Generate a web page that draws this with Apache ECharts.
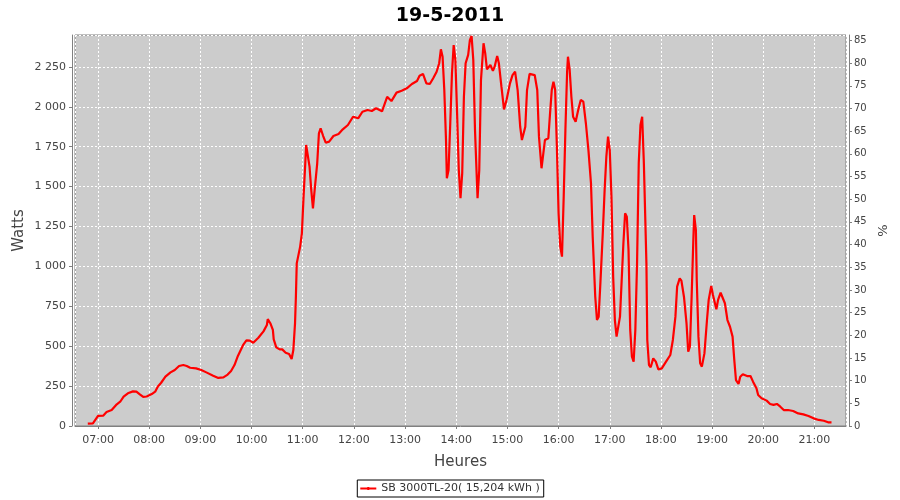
<!DOCTYPE html>
<html><head><meta charset="utf-8">
<script src="https://cdn.jsdelivr.net/npm/echarts@6/dist/echarts.min.js"></script>
<style>html,body{margin:0;padding:0;background:#fff}#c{width:900px;height:500px}</style>
</head><body><div id="c"></div>
<script>
const chartTitle = '19-5-2011';
const seriesName = 'SB 3000TL-20( 15,204 kWh )';
const xName = 'Heures';
const yLeftName = 'Watts';
const yRightName = '%';
const xStart = '06:33';
const xEnd = '21:37';
const wattMax = 2450;
const pctMax = 86.2;

const times = ['06:48','06:54','07:00','07:06','07:10','07:16','07:22','07:26','07:30','07:35','07:41','07:45','07:49','07:53','07:57',
'08:03','08:07','08:10','08:14','08:19','08:25','08:30','08:35','08:40','08:44','08:48','08:55',
'09:01','09:07','09:15','09:21','09:27','09:32','09:36','09:40','09:44','09:50','09:54','09:58',
'10:02','10:08','10:14','10:18','10:19','10:22','10:25','10:26','10:29','10:33','10:36','10:40','10:44','10:47','10:49','10:51','10:52','10:53','10:57','10:59',
'11:01','11:03','11:04','11:08','11:10','11:12','11:14','11:17','11:19','11:21','11:24','11:27','11:31','11:36','11:42','11:47','11:53','11:59',
'12:05','12:10','12:16','12:21','12:26','12:33','12:39','12:44','12:50','12:56',
'13:02','13:08','13:14','13:17','13:21','13:25','13:29','13:33','13:37','13:40','13:42','13:44','13:46','13:48','13:49','13:51','13:53','13:55','13:57','13:59',
'14:01','14:03','14:05','14:07','14:09','14:11','14:14','14:16','14:18','14:20','14:22','14:25','14:27','14:29','14:32','14:34','14:36','14:40','14:43','14:45','14:48','14:50','14:53','14:56','14:59',
'15:03','15:06','15:09','15:12','15:15','15:17','15:21','15:23','15:26','15:28','15:32','15:35','15:37','15:40','15:42','15:44','15:48','15:50','15:52','15:54','15:56','15:58',
'16:00','16:02','16:04','16:06','16:08','16:10','16:11','16:13','16:15','16:17','16:20','16:23','16:26','16:29','16:32','16:35','16:38','16:40','16:43','16:45','16:47','16:49','16:52','16:54','16:56','16:58',
'17:00','17:02','17:04','17:06','17:08','17:10','17:12','17:14','17:16','17:18','17:20','17:22','17:24','17:26','17:28','17:30','17:32','17:34','17:36','17:38','17:40','17:43','17:44','17:46','17:48','17:51','17:54','17:57',
'18:01','18:06','18:11','18:14','18:17','18:19','18:22','18:24','18:27','18:30','18:32','18:34','18:36','18:38','18:39','18:41','18:42','18:44','18:46','18:48','18:51','18:54','18:56','18:59',
'19:01','19:05','19:07','19:10','19:12','19:15','19:18','19:21','19:24','19:26','19:28','19:31','19:33','19:36','19:41','19:45','19:48','19:52','19:54','19:58',
'20:04','20:08','20:12','20:16','20:20','20:24','20:29','20:35','20:41','20:47','20:53','20:59',
'21:05','21:11','21:16','21:20'];

const watts = [15,17,63,65,88,100,136,152,184,205,217,215,198,182,185,
200,215,246,271,309,336,351,376,382,376,365,361,
351,336,315,301,305,322,345,382,439,506,537,535,
522,553,593,633,670,644,602,543,493,480,480,459,451,420,476,645,810,1019,1124,1207,
1437,1646,1761,1625,1479,1364,1479,1646,1834,1865,1817,1775,1782,1817,1830,1859,1886,1938,
1928,1969,1980,1974,1991,1972,2063,2036,2089,2101,
2116,2143,2162,2195,2206,2147,2143,2179,2220,2273,2360,2314,2105,1792,1552,1604,1897,2210,2387,2293,
1959,1604,1427,1583,2063,2273,2325,2418,2444,2293,1855,1427,1604,2168,2398,2335,2235,2262,2226,2251,2318,2273,2126,1984,2043,
2147,2199,2220,2105,1875,1792,1875,2105,2206,2210,2199,2105,1813,1615,1625,1792,1803,1959,2105,2157,2105,1750,
1333,1124,1061,1437,1855,2220,2314,2231,2063,1938,1907,1980,2043,2032,1897,1729,1521,1186,810,664,685,894,1228,1479,1687,1813,
1729,1437,936,664,560,549,685,915,1145,1333,1311,1103,602,434,403,602,1019,1646,1886,1938,1646,1019,539,382,368,424,403,355,
361,403,445,539,685,873,925,911,810,644,466,497,810,1165,1322,1228,915,560,393,372,455,664,790,877,
821,731,790,835,831,769,664,622,560,414,288,263,309,324,313,313,278,236,194,174,
159,138,132,138,121,100,100,94,79,73,63,48,
38,33,23,23];

function toTs(s) { const p = s.split(':').map(Number); return Date.UTC(2011, 4, 19, p[0], p[1]); }
function pad(n) { return (n < 10 ? '0' : '') + n; }
function fmtThousands(v) {
  v = Math.round(v);
  if (v >= 1000) { const r = v % 1000; return Math.floor(v / 1000) + ' ' + (r < 10 ? '00' : r < 100 ? '0' : '') + r; }
  return String(v);
}

const data = times.map((t, i) => [toTs(t), watts[i]]);

const chart = echarts.init(document.getElementById('c'), null, { renderer: 'canvas' });
const labelFont = 'DejaVu Sans';
chart.setOption({
  useUTC: true,
  animation: false,
  backgroundColor: '#ffffff',
  title: {
    text: chartTitle, left: 'center', top: 2,
    textStyle: { fontFamily: labelFont, fontSize: 19, fontWeight: 'bold', color: '#000' }
  },
  legend: {
    bottom: 3, left: 'center',
    borderColor: '#000', borderWidth: 1, borderRadius: 0,
    padding: [3, 4, 3, 3],
    itemWidth: 16, itemHeight: 12, itemGap: 4,
    textStyle: { fontFamily: labelFont, fontSize: 11, color: '#333' },
    data: [{ name: seriesName, icon: 'path://M0,5 L16,5 L16,7 L0,7 Z M7,4.5 L9,4.5 L9,7.5 L7,7.5 Z' }]
  },
  grid: {
    left: 75, right: 54, top: 35, bottom: 74,
    show: true, backgroundColor: '#cccccc', borderColor: '#808080', borderWidth: 1
  },
  xAxis: {
    type: 'time',
    min: toTs(xStart), max: toTs(xEnd),
    minInterval: 3600000, maxInterval: 3600000,
    offset: 4,
    name: xName, nameLocation: 'middle', nameGap: 25,
    nameTextStyle: { fontFamily: labelFont, fontSize: 15, color: '#444' },
    axisLine: { show: true, lineStyle: { color: '#808080' } },
    axisTick: { show: true, length: 3, lineStyle: { color: '#808080' } },
    axisLabel: {
      fontFamily: labelFont, fontSize: 11, color: '#444', margin: 5,
      showMinLabel: false, showMaxLabel: false,
      formatter: function (v) { const d = new Date(v); return pad(d.getUTCHours()) + ':' + pad(d.getUTCMinutes()); }
    },
    splitLine: { show: true, lineStyle: { color: '#ffffff', type: [2, 2], width: 1 } }
  },
  yAxis: [{
    type: 'value', min: 0, max: wattMax, interval: 250,
    offset: 3,
    name: yLeftName, nameLocation: 'middle', nameGap: 45, nameRotate: 90, nameMoveOverlap: false,
    nameTextStyle: { fontFamily: labelFont, fontSize: 15, color: '#444' },
    axisLine: { show: true, lineStyle: { color: '#808080' } },
    axisTick: { show: true, length: 3, lineStyle: { color: '#808080' } },
    axisLabel: { fontFamily: labelFont, fontSize: 11, color: '#444', margin: 6, showMaxLabel: false, formatter: fmtThousands },
    splitLine: { show: true, lineStyle: { color: '#ffffff', type: [2, 2], width: 1 } }
  }, {
    type: 'value', min: 0, max: pctMax, interval: 5,
    position: 'right', offset: 3,
    name: yRightName, nameLocation: 'middle', nameGap: 26, nameRotate: 90,
    nameTextStyle: { fontFamily: labelFont, fontSize: 13, color: '#444' },
    axisLine: { show: true, lineStyle: { color: '#808080' } },
    axisTick: { show: true, length: 3, lineStyle: { color: '#808080' } },
    axisLabel: { fontFamily: labelFont, fontSize: 10, color: '#444', margin: 5, showMaxLabel: false },
    splitLine: { show: false }
  }],
  series: [{
    name: seriesName, type: 'line', yAxisIndex: 0,
    data: data, showSymbol: false, symbol: 'none',
    lineStyle: { color: '#ff0000', width: 2.2 },
    itemStyle: { color: '#ff0000' }
  }]
});
</script>
</body></html>
